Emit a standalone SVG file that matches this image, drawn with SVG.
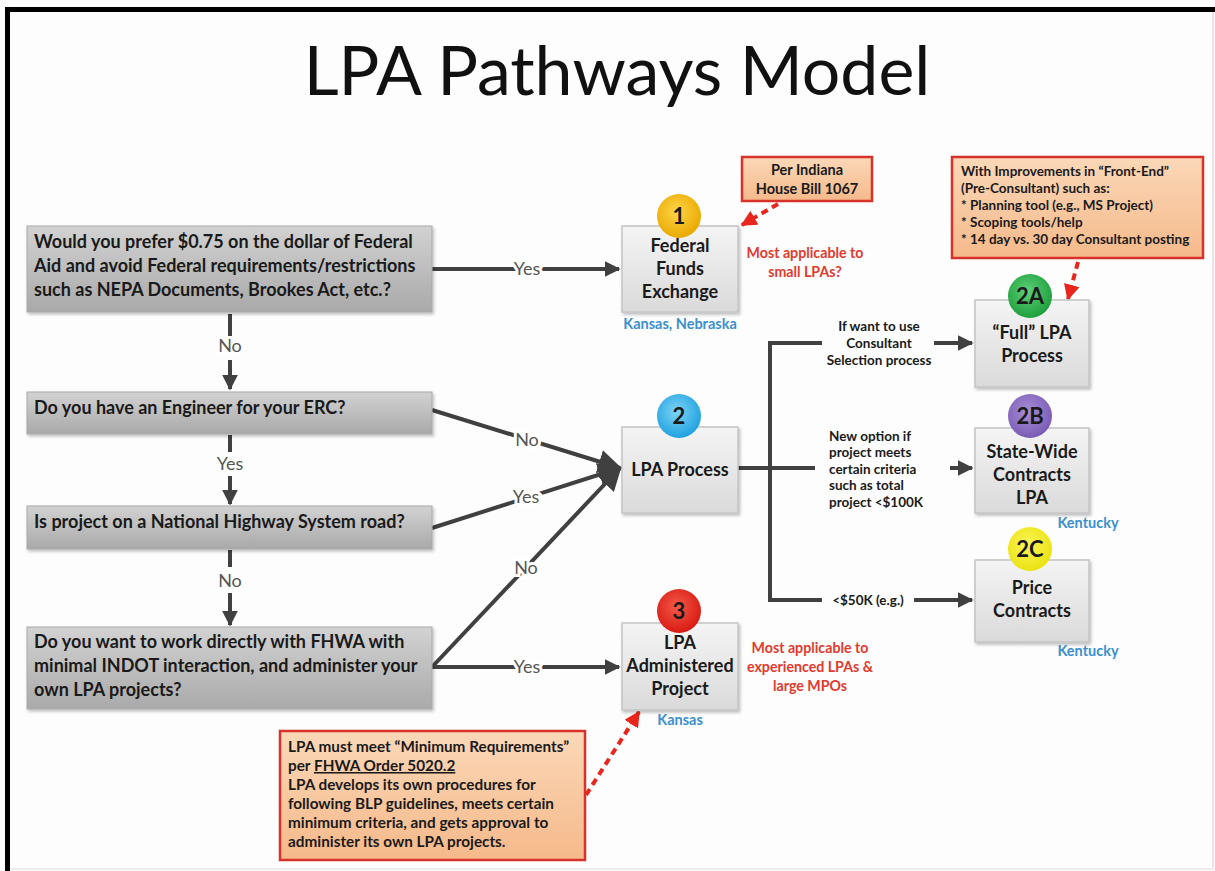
<svg xmlns="http://www.w3.org/2000/svg" width="1215" height="871" viewBox="0 0 1215 871">
<defs>
<style>
.q{font-family:Lato,"Open Sans","Liberation Sans",sans-serif;font-weight:bold;font-size:18px;fill:#1a1a1a}
.n{font-family:Lato,"Open Sans","Liberation Sans",sans-serif;font-weight:bold;font-size:18px;fill:#1a1a1a;text-anchor:middle}
.num{font-family:Lato,"Open Sans","Liberation Sans",sans-serif;font-weight:bold;font-size:22px;fill:#1a1a1a;text-anchor:middle}
.lbl{font-family:Lato,"Open Sans","Liberation Sans",sans-serif;font-size:18px;fill:#555;text-anchor:middle;stroke:#fff;stroke-width:6px;paint-order:stroke}
.sm{font-family:Lato,"Open Sans","Liberation Sans",sans-serif;font-weight:bold;font-size:13.5px;fill:#1a1a1a}
.red{font-family:Lato,"Open Sans","Liberation Sans",sans-serif;font-weight:bold;font-size:14.2px;fill:#e23a2e;text-anchor:middle}
.blue{font-family:Lato,"Open Sans","Liberation Sans",sans-serif;font-weight:bold;font-size:14.5px;fill:#3b8fcf;text-anchor:middle}
.co{font-family:Lato,"Open Sans","Liberation Sans",sans-serif;font-weight:bold;font-size:14.5px;fill:#1a1a1a}
.co2{font-family:Lato,"Open Sans","Liberation Sans",sans-serif;font-weight:bold;font-size:13.5px;fill:#1a1a1a}
.co3{font-family:Lato,"Open Sans","Liberation Sans",sans-serif;font-weight:bold;font-size:15.3px;fill:#1a1a1a}
.qb{fill:url(#gq);stroke:#a8a8a8;stroke-width:1;filter:url(#sh)}
.nb{fill:url(#gn);stroke:#c4c4c4;stroke-width:1.5;filter:url(#sh)}
.cb{fill:url(#gc);stroke:#d8322a;stroke-width:2.5}
.cn{stroke:#404040;stroke-width:4;fill:none}
.dash{stroke:#e8261e;stroke-width:4;fill:none;stroke-dasharray:7 5}
</style>
<linearGradient id="gq" x1="0" y1="0" x2="0" y2="1"><stop offset="0" stop-color="#d2d2d2"/><stop offset="1" stop-color="#a9a9a9"/></linearGradient>
<linearGradient id="gn" x1="0" y1="0" x2="0" y2="1"><stop offset="0" stop-color="#f4f4f4"/><stop offset="1" stop-color="#dadada"/></linearGradient>
<linearGradient id="gc" x1="0" y1="0" x2="0" y2="1"><stop offset="0" stop-color="#fbd8b8"/><stop offset="1" stop-color="#f5b98a"/></linearGradient>
<radialGradient id="c1" cx="0.45" cy="0.4" r="0.6"><stop offset="0" stop-color="#ffd54a"/><stop offset="1" stop-color="#e9a900"/></radialGradient>
<radialGradient id="c2" cx="0.45" cy="0.4" r="0.6"><stop offset="0" stop-color="#7fd3f5"/><stop offset="1" stop-color="#1fa2e0"/></radialGradient>
<radialGradient id="c2a" cx="0.45" cy="0.4" r="0.6"><stop offset="0" stop-color="#5fd07a"/><stop offset="1" stop-color="#1e9f3c"/></radialGradient>
<radialGradient id="c2b" cx="0.45" cy="0.4" r="0.6"><stop offset="0" stop-color="#a98fd6"/><stop offset="1" stop-color="#7a5bb5"/></radialGradient>
<radialGradient id="c2c" cx="0.45" cy="0.4" r="0.6"><stop offset="0" stop-color="#fbf65a"/><stop offset="1" stop-color="#ebe212"/></radialGradient>
<radialGradient id="c3" cx="0.45" cy="0.4" r="0.6"><stop offset="0" stop-color="#f45a4a"/><stop offset="1" stop-color="#d81a12"/></radialGradient>
<filter id="sh" x="-5%" y="-5%" width="115%" height="120%"><feDropShadow dx="1.5" dy="2" stdDeviation="1.5" flood-color="#000" flood-opacity="0.25"/></filter>
<marker id="ah" viewBox="0 0 10 10" refX="9" refY="5" markerWidth="16" markerHeight="16" markerUnits="userSpaceOnUse" orient="auto"><path d="M0,0 L10,5 L0,10 z" fill="#404040"/></marker>
<marker id="ahb" viewBox="0 0 10 10" refX="9" refY="5" markerWidth="24" markerHeight="24" markerUnits="userSpaceOnUse" orient="auto"><path d="M0,0 L10,5 L0,10 z" fill="#404040"/></marker>
<marker id="ar" viewBox="0 0 10 10" refX="9" refY="5" markerWidth="16" markerHeight="16" markerUnits="userSpaceOnUse" orient="auto"><path d="M0,0 L10,5 L0,10 z" fill="#e8261e"/></marker>
</defs>
<rect x="0" y="0" width="1215" height="871" fill="#fdfdfd"/>
<rect x="1212" y="12" width="2" height="858" fill="#e6e6e6"/>
<rect x="10" y="868" width="1204" height="2" fill="#ececec"/>
<path d="M7.5,871 V9.5 H1215" stroke="#000" stroke-width="5" fill="none"/>
<text x="617" y="95" font-family="Lato,'Open Sans','Liberation Sans',sans-serif" font-size="68" fill="#111" text-anchor="middle">LPA Pathways Model</text>

<g id="connectors">
<line class="cn" x1="432" y1="269" x2="619" y2="269" marker-end="url(#ah)"/>
<text class="lbl" x="527" y="275">Yes</text>
<line class="cn" x1="230" y1="314" x2="230" y2="337"/>
<text class="lbl" x="230" y="352" stroke="none">No</text>
<line class="cn" x1="230" y1="360" x2="230" y2="389" marker-end="url(#ah)"/>
<line class="cn" x1="230" y1="435" x2="230" y2="452"/>
<text class="lbl" x="230" y="470" stroke="none">Yes</text>
<line class="cn" x1="230" y1="476" x2="230" y2="504" marker-end="url(#ah)"/>
<line class="cn" x1="230" y1="550" x2="230" y2="567"/>
<text class="lbl" x="230" y="587" stroke="none">No</text>
<line class="cn" x1="230" y1="593" x2="230" y2="625" marker-end="url(#ah)"/>
<line class="cn" x1="432" y1="410" x2="620" y2="468" marker-end="url(#ahb)"/>
<line class="cn" x1="432" y1="528" x2="620" y2="468" marker-end="url(#ahb)"/>
<line class="cn" x1="432" y1="667" x2="620" y2="468" marker-end="url(#ahb)"/>
<text class="lbl" x="527" y="446">No</text>
<text class="lbl" x="526" y="503">Yes</text>
<text class="lbl" x="526" y="574">No</text>
<line class="cn" x1="432" y1="667" x2="619" y2="667" marker-end="url(#ah)"/>
<text class="lbl" x="527" y="673">Yes</text>
<line class="cn" x1="738" y1="468" x2="815" y2="468" stroke-width="5"/>
<path class="cn" d="M822,343 H770 V600 H822"/>
<line class="cn" x1="934" y1="343" x2="972" y2="343" marker-end="url(#ah)"/>
<line class="cn" x1="950" y1="468" x2="972" y2="468" marker-end="url(#ah)"/>
<line class="cn" x1="914" y1="600" x2="972" y2="600" marker-end="url(#ah)"/>
<line class="dash" x1="778" y1="204" x2="742" y2="225" marker-end="url(#ar)"/>
<line class="dash" x1="1078" y1="262" x2="1068" y2="299" marker-end="url(#ar)"/>
<line class="dash" x1="586" y1="795" x2="639" y2="712" marker-end="url(#ar)"/>
</g>

<g id="q1"><rect class="qb" x="27" y="226" width="405" height="86"/>
<text class="q" x="34" y="248">Would you prefer $0.75 on the dollar of Federal</text>
<text class="q" x="34" y="272">Aid and avoid Federal requirements/restrictions</text>
<text class="q" x="34" y="296">such as NEPA Documents, Brookes Act, etc.?</text></g>
<g id="q2"><rect class="qb" x="27" y="392" width="405" height="42"/>
<text class="q" x="34" y="414">Do you have an Engineer for your ERC?</text></g>
<g id="q3"><rect class="qb" x="27" y="506" width="405" height="43"/>
<text class="q" x="34" y="528">Is project on a National Highway System road?</text></g>
<g id="q4"><rect class="qb" x="27" y="627" width="405" height="82"/>
<text class="q" x="34" y="648">Do you want to work directly with FHWA with</text>
<text class="q" x="34" y="672">minimal INDOT interaction, and administer your</text>
<text class="q" x="34" y="696">own LPA projects?</text></g>

<g id="n1"><rect class="nb" x="622" y="226" width="116" height="86"/>
<circle cx="679" cy="216" r="22" fill="url(#c1)"/><text class="num" x="679" y="224">1</text>
<text class="n" x="680" y="252">Federal</text><text class="n" x="680" y="275">Funds</text><text class="n" x="680" y="298">Exchange</text>
<text class="blue" x="680" y="329">Kansas, Nebraska</text>
<text class="red" x="805" y="258">Most applicable to</text><text class="red" x="805" y="277">small LPAs?</text></g>

<g id="c-bill"><rect class="cb" x="742" y="157" width="130" height="44"/>
<text class="co" x="807" y="175" text-anchor="middle">Per Indiana</text>
<text class="co" x="807" y="194" text-anchor="middle">House Bill 1067</text></g>

<g id="c-front"><rect class="cb" x="952" y="157" width="251" height="101"/>
<text class="co2" x="961" y="176">With Improvements in “Front-End”</text>
<text class="co2" x="961" y="193">(Pre-Consultant) such as:</text>
<text class="co2" x="961" y="210">* Planning tool (e.g., MS Project)</text>
<text class="co2" x="961" y="227">* Scoping tools/help</text>
<text class="co2" x="961" y="244">* 14 day vs. 30 day Consultant posting</text></g>

<g id="n2"><rect class="nb" x="622" y="427" width="116" height="86"/>
<circle cx="679" cy="416" r="22" fill="url(#c2)"/><text class="num" x="679" y="424">2</text>
<text class="n" x="680" y="476">LPA Process</text></g>

<g id="n2a"><rect class="nb" x="975" y="300" width="114" height="87"/>
<circle cx="1030" cy="296" r="22" fill="url(#c2a)"/><text class="num" x="1030" y="304">2A</text>
<text class="n" x="1032" y="339">“Full” LPA</text><text class="n" x="1032" y="362">Process</text>
<text class="sm" x="879" y="331" text-anchor="middle">If want to use</text>
<text class="sm" x="879" y="348" text-anchor="middle">Consultant</text>
<text class="sm" x="879" y="365" text-anchor="middle">Selection process</text></g>

<g id="n2b"><rect class="nb" x="975" y="428" width="114" height="85"/>
<circle cx="1030" cy="416" r="22" fill="url(#c2b)"/><text class="num" x="1030" y="424">2B</text>
<text class="n" x="1032" y="458">State-Wide</text><text class="n" x="1032" y="481">Contracts</text><text class="n" x="1032" y="504">LPA</text>
<text class="blue" x="1088" y="528">Kentucky</text>
<text class="sm" x="829" y="441">New option if</text>
<text class="sm" x="829" y="457">project meets</text>
<text class="sm" x="829" y="474">certain criteria</text>
<text class="sm" x="829" y="490">such as total</text>
<text class="sm" x="829" y="507">project &lt;$100K</text></g>

<g id="n2c"><rect class="nb" x="975" y="560" width="114" height="82"/>
<circle cx="1030" cy="549" r="22" fill="url(#c2c)"/><text class="num" x="1030" y="557">2C</text>
<text class="n" x="1032" y="594">Price</text><text class="n" x="1032" y="617">Contracts</text>
<text class="blue" x="1088" y="656">Kentucky</text>
<text class="sm" x="868" y="605" text-anchor="middle">&lt;$50K (e.g.)</text></g>

<g id="n3"><rect class="nb" x="622" y="623" width="116" height="87"/>
<circle cx="679" cy="611" r="22" fill="url(#c3)"/><text class="num" x="679" y="619">3</text>
<text class="n" x="680" y="649">LPA</text><text class="n" x="680" y="672">Administered</text><text class="n" x="680" y="695">Project</text>
<text class="blue" x="680" y="725">Kansas</text>
<text class="red" x="810" y="653">Most applicable to</text><text class="red" x="810" y="672">experienced LPAs &amp;</text><text class="red" x="810" y="691">large MPOs</text></g>

<g id="c-min"><rect class="cb" x="280" y="731" width="305" height="129"/>
<text class="co3" x="288" y="752">LPA must meet “Minimum Requirements”</text>
<text class="co3" x="288" y="771">per <tspan text-decoration="underline">FHWA Order 5020.2</tspan></text>
<text class="co3" x="288" y="790">LPA develops its own procedures for</text>
<text class="co3" x="288" y="809">following BLP guidelines, meets certain</text>
<text class="co3" x="288" y="828">minimum criteria, and gets approval to</text>
<text class="co3" x="288" y="847">administer its own LPA projects.</text></g>
</svg>
